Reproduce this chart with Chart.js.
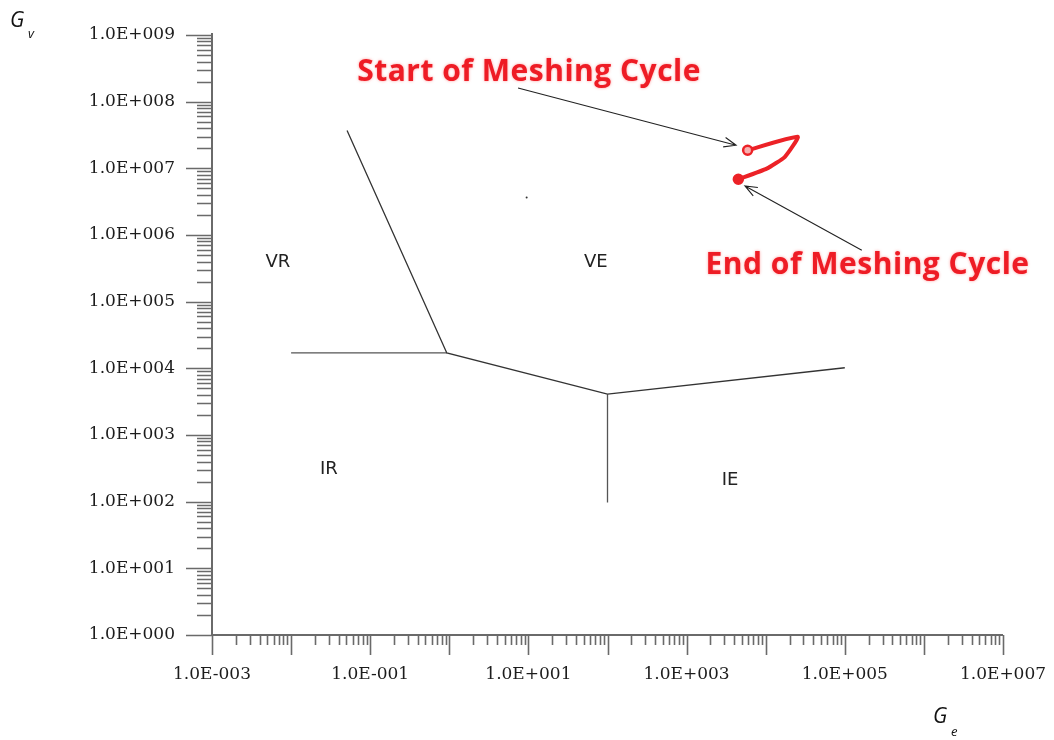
<!DOCTYPE html>
<html>
<head>
<meta charset="utf-8">
<script src="https://cdn.jsdelivr.net/npm/chart.js@4.4.0/dist/chart.umd.min.js"></script>
<style>
  html, body { margin: 0; padding: 0; background: #fff; }
</style>
</head>
<body>
<canvas id="chartCanvas" width="1054" height="740"></canvas>
<script>
// decades of the two log axes
var xFirstDecade = -3, xLastDecade = 7;
var yFirstDecade = 0, yLastDecade = 9;
var xLabelledDecades = [-3, -1, 1, 3, 5, 7];

// regime boundaries (Ge, Gv)
var boundaryMain = [
  { x: 0.051, y: 3.7e7 },
  { x: 0.93, y: 1.7e4 },
  { x: 100, y: 4.1e3 },
  { x: 1.0e5, y: 1.02e4 }
];
var boundaryLeft = [{ x: 0.01, y: 1.7e4 }, { x: 0.93, y: 1.7e4 }];
var boundaryDown = [{ x: 100, y: 4.1e3 }, { x: 100, y: 97 }];
var strayDot = [{ x: 9.5, y: 3.64e6 }];

// meshing cycle path (red)
var meshingCycle = [
  { x: 5910, y: 1.87e7 },
  { x: 25400, y: 2.97e7 },
  { x: 17500, y: 1.49e7 },
  { x: 10300, y: 9.9e6 },
  { x: 4510, y: 6.87e6 }
];

// arrows: tail then head
var startArrow = [{ x: 7.4, y: 1.6e8 }, { x: 4220, y: 2.22e7 }];
var endArrow = [{ x: 1.64e5, y: 5.89e5 }, { x: 5470, y: 5.45e6 }];

// region names
var regionNames = ['VR', 'VE', 'IR', 'IE'];
var regionX = [0.0068, 71, 0.030, 3540];
var regionY = [3.9e5, 3.9e5, 302, 211];

// red notes
var noteText = ['Start of Meshing Cycle', 'End of Meshing Cycle'];
var noteX = [10.2, 1.94e5];
var noteY = [2.78e8, 3.5e5];

function logTicks(first, last) {
  var out = [];
  for (var d = first; d < last; d++) {
    for (var m = 1; m < 10; m++) {
      out.push({ value: Number((m * Math.pow(10, d)).toPrecision(3)) });
    }
  }
  out.push({ value: Math.pow(10, last) });
  return out;
}

function decadeOf(v) {
  var e = Math.log10(v);
  if (Math.abs(e - Math.round(e)) > 1e-6) return null;
  return Math.round(e);
}

function fmtExp(e) {
  var s = String(Math.abs(e));
  while (s.length < 3) s = '0' + s;
  return '1.0E' + (e < 0 ? '-' : '+') + s;
}

var axisColor = '#6a6a6a';

var decorPlugin = {
  id: 'decor',
  afterDraw: function (chart) {
    var ctx = chart.ctx, ca = chart.chartArea;
    var xs = chart.scales.x, ys = chart.scales.y;
    ctx.save();

    // axis lines
    ctx.strokeStyle = axisColor;
    ctx.lineWidth = 2;
    ctx.beginPath();
    ctx.moveTo(ca.left, ca.top - 2);
    ctx.lineTo(ca.left, ca.bottom);
    ctx.lineTo(ca.right, ca.bottom);
    ctx.stroke();

    // tick marks
    ctx.lineWidth = 1.6;
    ctx.beginPath();
    xs.ticks.forEach(function (t) {
      var px = Math.round(xs.getPixelForValue(t.value)) + 0.5;
      var len = decadeOf(t.value) !== null ? 20 : 10;
      ctx.moveTo(px, ca.bottom);
      ctx.lineTo(px, ca.bottom + len);
    });
    ys.ticks.forEach(function (t) {
      var py = Math.round(ys.getPixelForValue(t.value)) + 0.5;
      var len = decadeOf(t.value) !== null ? 26 : 15;
      ctx.moveTo(ca.left, py);
      ctx.lineTo(ca.left - len, py);
    });
    ctx.stroke();

    // arrows
    ctx.strokeStyle = '#222';
    ctx.lineWidth = 1.1;
    [startArrow, endArrow].forEach(function (a) {
      var tx = xs.getPixelForValue(a[0].x), ty = ys.getPixelForValue(a[0].y);
      var hx = xs.getPixelForValue(a[1].x), hy = ys.getPixelForValue(a[1].y);
      var ang = Math.atan2(hy - ty, hx - tx);
      ctx.beginPath();
      ctx.moveTo(tx, ty);
      ctx.lineTo(hx, hy);
      ctx.moveTo(hx - 13 * Math.cos(ang - 0.38), hy - 13 * Math.sin(ang - 0.38));
      ctx.lineTo(hx, hy);
      ctx.lineTo(hx - 13 * Math.cos(ang + 0.38), hy - 13 * Math.sin(ang + 0.38));
      ctx.stroke();
    });

    // region names
    ctx.fillStyle = '#222';
    ctx.font = '18px "DejaVu Sans"';
    ctx.textAlign = 'center';
    ctx.textBaseline = 'middle';
    regionNames.forEach(function (n, i) {
      ctx.fillText(n, xs.getPixelForValue(regionX[i]), ys.getPixelForValue(regionY[i]));
    });

    // notes
    ctx.fillStyle = '#ee1c25';
    ctx.shadowColor = 'rgba(255, 90, 90, 0.6)';
    ctx.shadowBlur = 3;
    ctx.font = 'bold 30px "Open Sans"';
    ctx.letterSpacing = '0.5px';
    noteText.forEach(function (n, i) {
      ctx.fillText(n, xs.getPixelForValue(noteX[i]), ys.getPixelForValue(noteY[i]));
    });
    ctx.shadowBlur = 0;
    ctx.letterSpacing = '0px';

    // axis titles G_v and G_e
    ctx.fillStyle = '#111';
    ctx.textAlign = 'left';
    ctx.textBaseline = 'alphabetic';
    ctx.font = 'italic 21px "Open Sans"';
    ctx.fillText('G', 10, 27);
    ctx.fillText('G', 933, 723);
    ctx.font = 'italic 13px "Open Sans"';
    ctx.fillText('v', 28, 38);
    ctx.fillText('e', 951, 736);

    ctx.restore();
  }
};

var tickFont = { family: '"DejaVu Serif"', size: 17 };

var chartLine = new Chart(document.getElementById('chartCanvas').getContext('2d'), {
  type: 'scatter',
  data: {
    datasets: [
      { data: boundaryMain, showLine: true, borderColor: '#333', borderWidth: 1.3, pointRadius: 0 },
      { data: boundaryLeft, showLine: true, borderColor: '#555', borderWidth: 1.3, pointRadius: 0 },
      { data: boundaryDown, showLine: true, borderColor: '#555', borderWidth: 1.3, pointRadius: 0 },
      { data: strayDot, showLine: false, pointRadius: 1, pointBackgroundColor: '#333', pointBorderWidth: 0 },
      {
        data: meshingCycle, showLine: true, borderColor: '#ec2227', borderWidth: 4,
        borderCapStyle: 'round', borderJoinStyle: 'round', tension: 0.15,
        pointRadius: [4.5, 0, 0, 0, 4.5],
        pointBackgroundColor: ['#f7b0b0', '#ec2227', '#ec2227', '#ec2227', '#ec2227'],
        pointBorderColor: '#ec2227', pointBorderWidth: 2.5
      }
    ]
  },
  options: {
    responsive: false,
    animation: false,
    layout: { padding: { left: 0, right: 51, top: 35, bottom: 0 } },
    plugins: { legend: { display: false }, tooltip: { enabled: false } },
    scales: {
      x: {
        type: 'logarithmic',
        min: Math.pow(10, xFirstDecade),
        max: Math.pow(10, xLastDecade),
        grid: { display: false, drawTicks: false, tickLength: 0 },
        border: { display: false },
        afterBuildTicks: function (scale) { scale.ticks = logTicks(xFirstDecade, xLastDecade); },
        afterFit: function (scale) {
          scale.height = 105;
          scale.paddingLeft = 0; scale.paddingRight = 0;
        },
        ticks: {
          autoSkip: false, maxRotation: 0, padding: 29, color: '#1c1c1c', font: tickFont,
          callback: function (v) {
            var e = decadeOf(v);
            return (e !== null && xLabelledDecades.indexOf(e) >= 0) ? fmtExp(e) : '';
          }
        }
      },
      y: {
        type: 'logarithmic',
        min: Math.pow(10, yFirstDecade),
        max: Math.pow(10, yLastDecade),
        grid: { display: false, drawTicks: false, tickLength: 0 },
        border: { display: false },
        afterBuildTicks: function (scale) { scale.ticks = logTicks(yFirstDecade, yLastDecade); },
        afterFit: function (scale) {
          scale.width = 212;
          scale.paddingTop = 0; scale.paddingBottom = 0;
        },
        ticks: {
          autoSkip: false, padding: 37, color: '#1c1c1c', font: tickFont,
          callback: function (v) {
            var e = decadeOf(v);
            return e !== null ? fmtExp(e) : '';
          }
        }
      }
    }
  },
  plugins: [decorPlugin]
});
</script>
</body>
</html>
